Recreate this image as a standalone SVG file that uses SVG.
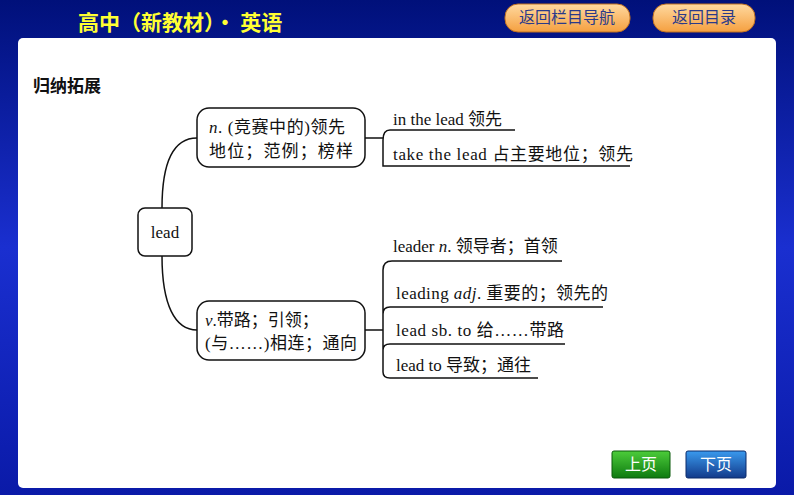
<svg xmlns="http://www.w3.org/2000/svg" width="794" height="495" viewBox="0 0 794 495">
<defs>
<linearGradient id="bg" x1="0" y1="0" x2="0" y2="1"><stop offset="0" stop-color="#00107a"/><stop offset="0.5" stop-color="#1a2fd0"/><stop offset="1" stop-color="#0a1aa8"/></linearGradient>
<linearGradient id="or" x1="0" y1="0" x2="0" y2="1"><stop offset="0" stop-color="#ffd9a0"/><stop offset="1" stop-color="#f5a040"/></linearGradient>
<linearGradient id="gr" x1="0" y1="0" x2="0" y2="1"><stop offset="0" stop-color="#4ccc3a"/><stop offset="1" stop-color="#0e7a10"/></linearGradient>
<linearGradient id="bl" x1="0" y1="0" x2="0" y2="1"><stop offset="0" stop-color="#3a9aee"/><stop offset="1" stop-color="#123a8a"/></linearGradient>
<style>
.t{font-family:"Liberation Serif","Noto Sans CJK SC",serif;font-size:17px;fill:#111}
.box{fill:#fff;stroke:#111;stroke-width:1.5}
.ln{fill:none;stroke:#111;stroke-width:1.5}
.btn{font-family:"Noto Sans CJK SC",sans-serif;font-size:16px;fill:#2a3a8a}
.nav{font-family:"Noto Sans CJK SC",sans-serif;font-size:16px;fill:#fff}
</style>
</defs>
<rect width="794" height="495" fill="url(#bg)"/>
<rect x="18" y="38" width="758" height="450" rx="5" fill="#fff"/>
<text x="78" y="30" font-family="Noto Sans CJK SC,sans-serif" font-size="21" font-weight="bold" fill="#ffff33">高中（新教材）· 英语</text>
<g id="btn-nav"><rect x="505" y="4" width="125" height="28" rx="13" fill="url(#or)" stroke="#c07020"/><text x="567" y="23" class="btn" text-anchor="middle">返回栏目导航</text></g>
<g id="btn-toc"><rect x="653" y="4" width="102" height="28" rx="13" fill="url(#or)" stroke="#c07020"/><text x="704" y="23" class="btn" text-anchor="middle">返回目录</text></g>
<text x="33" y="92" font-family="Noto Sans CJK SC,sans-serif" font-size="17" font-weight="bold" fill="#111">归纳拓展</text>
<g id="connectors">
<path class="ln" d="M162,208 C162,160 175,138 197,138"/>
<path class="ln" d="M162,256 C162,305 175,330 197,330"/>
<path class="ln" d="M365,138 H383 M390,130 H515 M383,140 V166 H630 M383,140 Q383,130 390,130"/>
<path class="ln" d="M365,330 H383 M383,270 Q383,261 392,261 H562 M383,270 V372 Q383,378 390,378 H538 M383,314 Q383,307 390,307 H603 M383,350 Q383,344 390,344 H565"/>
</g>
<g id="lead"><rect class="box" x="138" y="208" width="54" height="48" rx="7"/><text class="t" x="165" y="238" text-anchor="middle">lead</text></g>
<g id="noun"><rect class="box" x="197" y="108" width="168" height="59" rx="12"/><text class="t" x="209" y="133" textLength="136"><tspan font-style="italic">n</tspan>. (竞赛中的)领先</text><text class="t" x="209" y="157" textLength="144">地位；范例；榜样</text></g>
<g id="verb"><rect class="box" x="197" y="301" width="168" height="59" rx="12"/><text class="t" x="205" y="326"><tspan font-style="italic">v</tspan>.带路；引领；</text><text class="t" x="205" y="349" textLength="152">(与……)相连；通向</text></g>
<g id="items">
<text class="t" x="393" y="125">in the lead 领先</text>
<text class="t" x="393" y="160" textLength="240">take the lead 占主要地位；领先</text>
<text class="t" x="393" y="252">leader <tspan font-style="italic">n</tspan>. 领导者；首领</text>
<text class="t" x="396" y="299" textLength="212">leading <tspan font-style="italic">adj</tspan>. 重要的；领先的</text>
<text class="t" x="396" y="336" textLength="168">lead sb. to 给……带路</text>
<text class="t" x="396" y="371">lead to 导致；通往</text>
</g>
<g id="prev"><rect x="612" y="451" width="58" height="27" rx="2" fill="url(#gr)" stroke="#0a5a0a"/><text class="nav" x="641" y="470" text-anchor="middle">上页</text></g>
<g id="next"><rect x="686" y="451" width="60" height="27" rx="2" fill="url(#bl)" stroke="#0a2a6a"/><text class="nav" x="716" y="470" text-anchor="middle">下页</text></g>
</svg>
